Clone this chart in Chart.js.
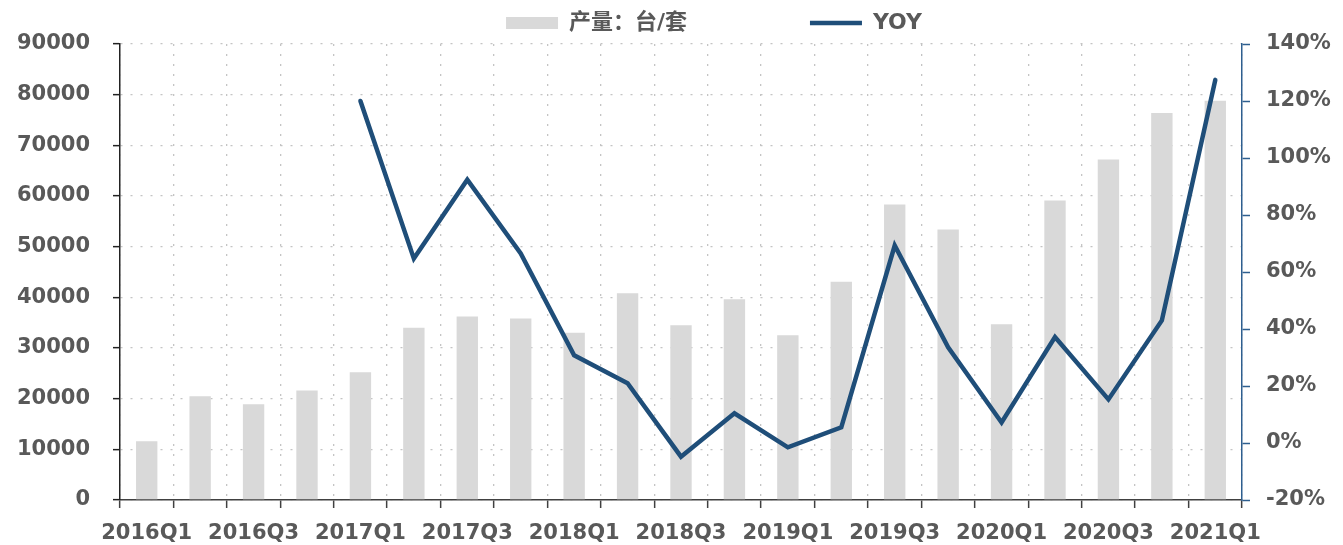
<!DOCTYPE html>
<html lang="zh">
<head>
    <meta charset="UTF-8">
    <title>产量与同比</title>
    <script src="https://cdn.jsdelivr.net/npm/chart.js"></script>
    <style>
        html, body { margin: 0; padding: 0; background: #fff; }
        #wrap { width: 1343px; height: 545px; }
    </style>
</head>
<body>
<div id="wrap"><canvas id="prodChart"></canvas></div>

<script>
    const quarters = [
        '2016Q1', '2016Q2', '2016Q3', '2016Q4',
        '2017Q1', '2017Q2', '2017Q3', '2017Q4',
        '2018Q1', '2018Q2', '2018Q3', '2018Q4',
        '2019Q1', '2019Q2', '2019Q3', '2019Q4',
        '2020Q1', '2020Q2', '2020Q3', '2020Q4',
        '2021Q1'
    ];
    // 产量：台/套
    const output = [
        11600, 20500, 18900, 21600,
        25200, 34000, 36200, 35800,
        33000, 40800, 34500, 39600,
        32500, 43100, 58300, 53400,
        34700, 59100, 67200, 76400,
        78800
    ];
    // YOY, %
    const yoy = [
        null, null, null, null,
        120, 64.7, 92.4, 66.5,
        30.8, 21, -4.8, 10.4,
        -1.5, 5.5, 69.3, 33.6,
        7.2, 37.2, 15.3, 43,
        127.4
    ];
    const leftTicks = { min: 0, max: 90000, step: 10000 };
    const rightTicks = { min: -20, max: 140, step: 20 };

    const FONT = "'DejaVu Sans', 'Noto Sans CJK SC', sans-serif";
    const TEXT = '#595959';
    const LINE = '#1f4e79';

    // push the centred legend right so it sits where the original has it
    const shiftLegend = {
        id: 'shiftLegend',
        afterLayout(chart) {
            chart.legend.left += 40;
            chart.legend.right += 40;
        }
    };

    const ctx = document.getElementById('prodChart').getContext('2d');
    new Chart(ctx, {
        type: 'bar',
        data: {
            labels: quarters,
            datasets: [
                {
                    label: '产量：台/套' + ' '.repeat(15),
                    data: output,
                    backgroundColor: '#d9d9d9',
                    borderWidth: 0,
                    pointStyle: 'rect',
                    categoryPercentage: 1,
                    barPercentage: 0.4,
                    yAxisID: 'y',
                    order: 2
                },
                {
                    type: 'line',
                    label: 'YOY',
                    data: yoy,
                    borderColor: LINE,
                    backgroundColor: LINE,
                    borderWidth: 4.5,
                    borderCapStyle: 'round',
                    pointRadius: 0,
                    pointStyle: 'line',
                    tension: 0,
                    yAxisID: 'y1',
                    order: 1
                }
            ]
        },
        options: {
            responsive: true,
            maintainAspectRatio: false,
            animation: false,
            layout: { padding: { top: 4, left: 17, right: 12, bottom: 0 } },
            plugins: {
                tooltip: { enabled: false },
                legend: {
                    position: 'top',
                    labels: {
                        usePointStyle: true,
                        pointStyleWidth: 52,
                        boxHeight: 12,
                        padding: 8,
                        color: TEXT,
                        font: { family: FONT, size: 22, weight: 'bold' },
                        sort: (a, b) => a.datasetIndex - b.datasetIndex
                    }
                }
            },
            scales: {
                x: {
                    offset: true,
                    afterFit: scale => { scale.height = 45; },
                    grid: {
                        offset: true,
                        color: '#c4c4c4',
                        lineWidth: 1.3,
                        tickColor: '#404040',
                        tickLength: 8,
                        tickWidth: 1.5
                    },
                    border: { color: '#404040', width: 1.5, dash: [2, 8] },
                    ticks: {
                        autoSkip: false,
                        maxRotation: 0,
                        padding: 13,
                        color: TEXT,
                        font: { family: FONT, size: 21, weight: 'bold' },
                        callback: (v, i) => (i % 2 === 0 ? quarters[i] : '')
                    }
                },
                y: {
                    position: 'left',
                    min: leftTicks.min,
                    max: leftTicks.max,
                    afterFit: scale => { scale.width = 103; },
                    grid: {
                        color: '#c4c4c4',
                        lineWidth: 1.3,
                        tickColor: '#222',
                        tickLength: 7,
                        tickWidth: 1.5
                    },
                    border: { color: '#222', width: 1.5, dash: [2, 8] },
                    ticks: {
                        stepSize: leftTicks.step,
                        padding: 23,
                        color: TEXT,
                        font: { family: FONT, size: 21, weight: 'bold' },
                        callback: v => String(v)
                    }
                },
                y1: {
                    position: 'right',
                    min: rightTicks.min,
                    max: rightTicks.max,
                    afterFit: scale => { scale.width = 89; },
                    grid: {
                        drawOnChartArea: false,
                        tickColor: '#2e5f8f',
                        tickLength: 8,
                        tickWidth: 1.5
                    },
                    border: { color: '#2e5f8f', width: 1.5 },
                    ticks: {
                        stepSize: rightTicks.step,
                        padding: 16,
                        color: TEXT,
                        font: { family: FONT, size: 21, weight: 'bold' },
                        callback: v => v + '%'
                    }
                }
            }
        },
        plugins: [shiftLegend]
    });
</script>
</body>
</html>
